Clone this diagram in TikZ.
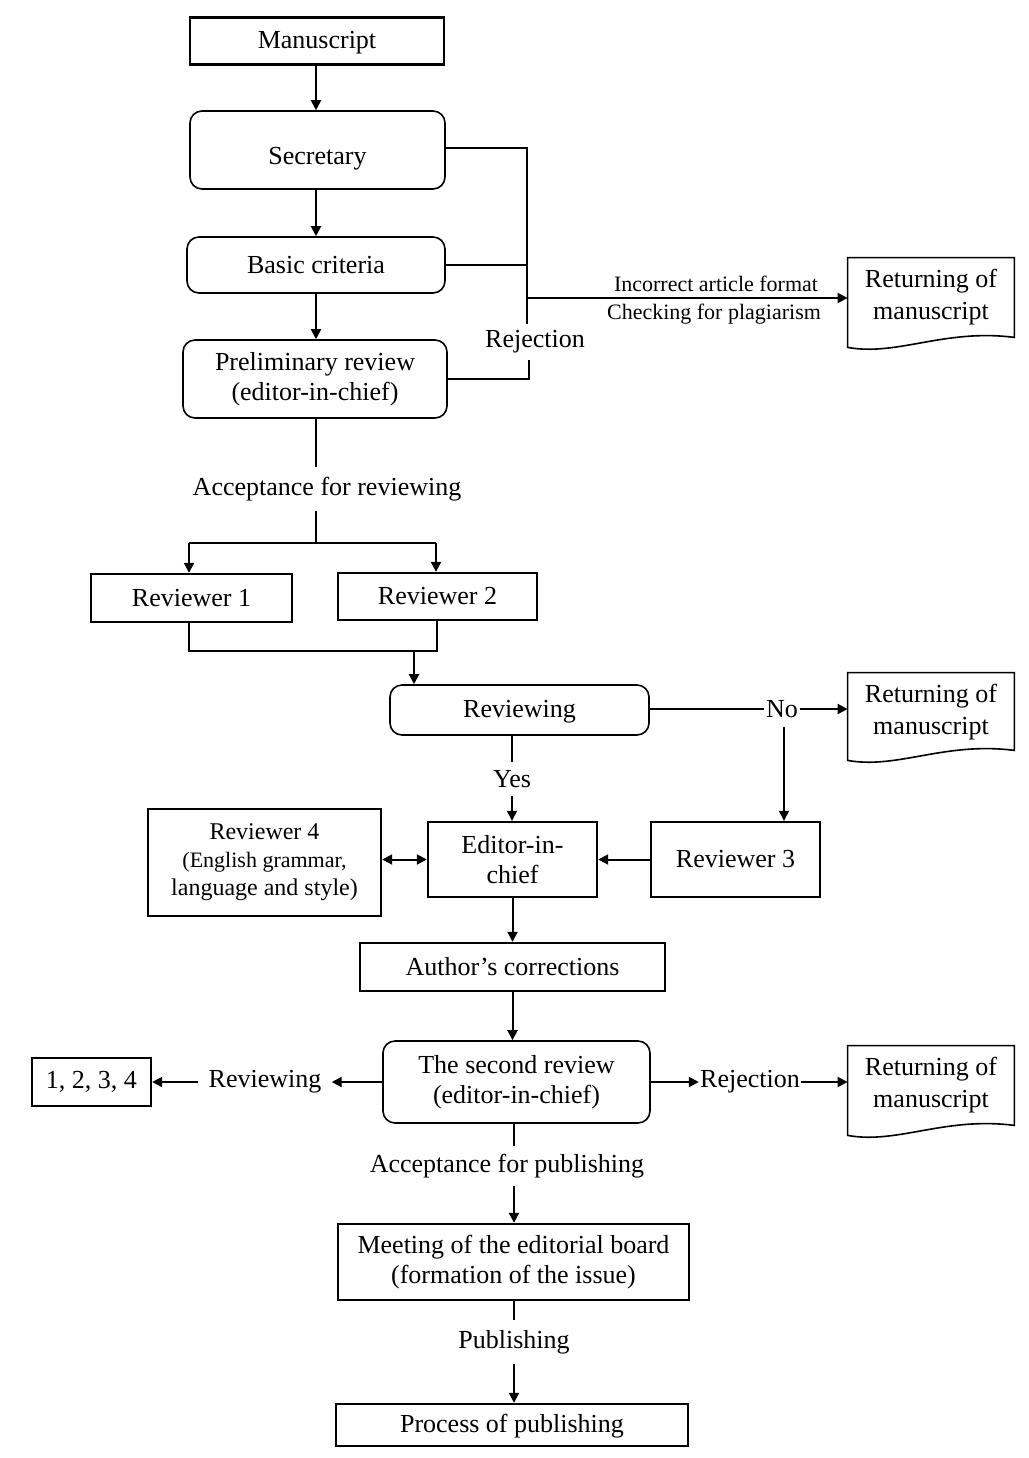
\documentclass[tikz,border=0pt]{standalone}
\usepackage{fontspec}
\setmainfont{Liberation Serif}
\usetikzlibrary{arrows.meta}
\newcommand\docshape[1]{\draw[line width=0.8pt] (#1.north west) -- ([yshift=2.5pt]#1.south west) .. controls ([xshift=25pt,yshift=-2pt]#1.south west) and ([xshift=-35pt,yshift=12pt]#1.south east) .. ([yshift=7.5pt]#1.south east) -- (#1.north east) -- cycle;}
\begin{document}
\begin{tikzpicture}[x=0.5pt,y=-0.5pt,
  every node/.style={font=\fontsize{13}{15}\selectfont, inner sep=2pt},
  sqbox/.style={draw, line width=1.2pt, rectangle, align=center},
  rbox/.style={draw, line width=0.8pt, rounded corners=6pt, align=center},
  docbox/.style={rectangle, inner sep=0pt},
  doctext/.style={align=center, font=\fontsize{13}{16}\selectfont},
  lbl/.style={inner sep=3pt},
  conn/.style={line width=1pt},
  thinline/.style={line width=0.6pt},
  arr/.style={-{Triangle[length=5pt,width=5pt]}},
  darr/.style={{Triangle[length=5pt,width=5pt]}-{Triangle[length=5pt,width=5pt]}},
]
\useasboundingbox (0,0) rectangle (1029,1458);

% top column
\node[sqbox, minimum width=127pt, minimum height=23.5pt, text height=10pt] (man) at (317,41) {Manuscript};
\node[rbox, minimum width=127.5pt, minimum height=39pt, text height=17pt] (sec) at (317.5,150) {Secretary};
\node[rbox, minimum width=129pt, minimum height=28pt] (bas) at (316,265) {Basic criteria};
\node[rbox, minimum width=132pt, minimum height=39pt] (pre) at (315,379) {Preliminary review\\(editor-in-chief)};

% returning 1
\node[docbox, minimum width=83pt, minimum height=47pt] (ret1) at (931,305) {};
\docshape{ret1}
\node[doctext] (ret1t) at (931,297) {Returning of\\manuscript};

\node[lbl] (rej) at (535,342) {Rejection};
\node[inner sep=1pt, font=\fontsize{11}{13}\selectfont, anchor=south] (inc) at (716,294) {Incorrect article format};
\node[inner sep=1pt, font=\fontsize{11}{13}\selectfont, anchor=north] (plag) at (714,302) {Checking for plagiarism};

\coordinate (cx0) at (316,0);
\draw[conn,arr] (cx0 |- man.south) -- (cx0 |- sec.north);
\draw[conn,arr] (cx0 |- sec.south) -- (cx0 |- bas.north);
\draw[conn,arr] (cx0 |- bas.south) -- (cx0 |- pre.north);

\coordinate (v1) at (527,148);
\coordinate (v2) at (527,265);
\coordinate (j1) at (527,298);
\coordinate (v3) at (529,379);
\draw[conn] (v1 -| sec.east) -- (v1) -- (v2);
\draw[conn] (bas.east) -- (v2);
\draw[thinline] (v2) -- (v2 |- rej.north);
\draw[conn,arr] (j1) -- (j1 -| ret1.west);
\draw[conn] (pre.east) -- (v3) -- (v3 |- rej.south);

% acceptance for reviewing
\node[lbl, inner sep=5pt] (acc) at (327,489) {Acceptance for reviewing};
\coordinate (s1) at (316,543);
\coordinate (s1l) at (189,543);
\coordinate (s1r) at (436,543);
\draw[thinline] (s1 |- pre.south) -- (s1 |- acc.north);
\draw[conn] (s1 |- acc.south) -- (s1);

\node[sqbox, minimum width=100.5pt, minimum height=24pt] (rev1) at (191.5,598) {Reviewer 1};
\node[sqbox, minimum width=99.5pt, minimum height=23.5pt] (rev2) at (437.5,596.5) {Reviewer 2};
\draw[conn] (s1l) -- (s1r);
\draw[conn,arr] (s1l) -- (s1l |- rev1.north);
\draw[conn,arr] (s1r) -- (s1r |- rev2.north);

\node[rbox, minimum width=129.5pt, minimum height=25pt, text height=10pt] (rvw) at (519.5,710) {Reviewing};
\coordinate (b1) at (189,651);
\coordinate (b2) at (437,651);
\coordinate (b3) at (414,651);
\draw[conn] (b1 |- rev1.south) -- (b1) -- (b2) -- (b2 |- rev2.south);
\draw[conn,arr] (b3) -- (b3 |- rvw.north);

% returning 2
\node[docbox, minimum width=83pt, minimum height=46pt] (ret2) at (931,719) {};
\docshape{ret2}
\node[doctext] (ret2t) at (931,712) {Returning of\\manuscript};

\node[inner sep=1pt] (no) at (782,709) {No};
\draw[conn] (rvw.east |- no.west) -- (no.west);
\draw[conn,arr] (no.east) -- (no.east -| ret2.west);

\node[sqbox, minimum width=84.5pt, minimum height=37.5pt] (rev3) at (735.5,859.5) {Reviewer 3};
\node[sqbox, minimum width=84.5pt, minimum height=37.5pt] (ed) at (512.5,859.5) {Editor-in-\\chief};
\node[sqbox, minimum width=116.5pt, minimum height=53.5pt, font=\fontsize{12}{14}\selectfont] (rev4) at (264.5,862.5) {Reviewer 4\\\fontsize{11}{12.5}\selectfont (English grammar,\\language and style)};

\coordinate (nx) at (784,727);
\draw[thinline,arr] (nx) -- (nx |- rev3.north);

\node[lbl, inner sep=4pt] (yes) at (512,779) {Yes};
\draw[thinline] (rvw.south -| yes) -- (yes.north);
\draw[thinline,arr] (yes.south) -- (yes.south |- ed.north);

\draw[conn,darr] (ed.west -| rev4.east) -- (ed.west);
\draw[conn,arr] (rev3.west) -- (ed.east);

\node[sqbox, minimum width=152.5pt, minimum height=24pt] (au) at (512.5,967) {Author’s corrections};
\draw[conn,arr] (ed.south) -- (ed.south |- au.north);

\node[rbox, minimum width=133.5pt, minimum height=41pt] (sr) at (516.5,1082) {The second review\\(editor-in-chief)};
\draw[conn,arr] (au.south) -- (au.south |- sr.north);

\node[sqbox, minimum width=59.5pt, minimum height=24pt] (b4) at (91.5,1082) {1, 2, 3, 4};
\node[lbl, inner sep=5pt] (rv2) at (265,1082) {Reviewing};
\draw[conn,arr] (sr.west) -- (rv2.east);
\draw[conn,arr] (rv2.west) -- (b4.east);

\node[docbox, minimum width=83pt, minimum height=47pt] (ret3) at (931,1093) {};
\docshape{ret3}
\node[doctext] (ret3t) at (931,1085) {Returning of\\manuscript};

\node[inner sep=0.5pt] (rj2) at (750,1082) {Rejection};
\draw[conn,arr] (sr.east) -- (rj2.west);
\draw[conn,arr] (rj2.east) -- (rj2.east -| ret3.west);

\node[lbl, inner sep=4pt] (ap) at (507,1166) {Acceptance for publishing};
\node[sqbox, minimum width=175.5pt, minimum height=38pt] (mt) at (513.5,1262) {Meeting of the editorial board\\(formation of the issue)};
\coordinate (cx) at (514,1150);
\draw[thinline] (cx |- sr.south) -- (cx |- ap.north);
\draw[conn,arr] (cx |- ap.south) -- (cx |- mt.north);

\node[lbl, inner sep=5pt] (pb) at (514,1342) {Publishing};
\node[sqbox, minimum width=176pt, minimum height=21pt, text height=10pt] (pc) at (512,1425) {Process of publishing};
\draw[thinline] (cx |- mt.south) -- (cx |- pb.north);
\draw[conn,arr] (cx |- pb.south) -- (cx |- pc.north);
\end{tikzpicture}
\end{document}
